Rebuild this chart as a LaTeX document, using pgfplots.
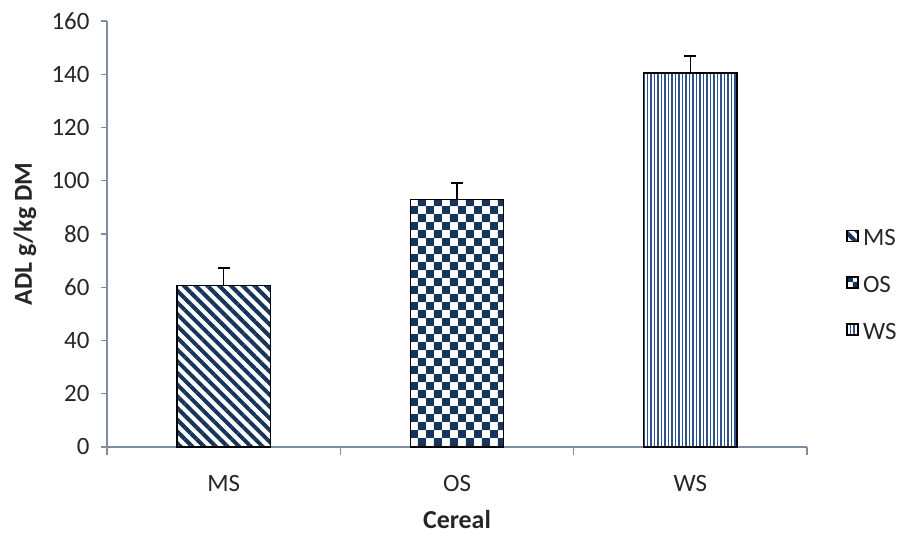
\documentclass[border=0pt]{standalone}
\usepackage{pgfplots}
\pgfplotsset{compat=1.18}
\usepackage{fontspec}
\setmainfont{Carlito}
\usetikzlibrary{patterns,patterns.meta}
\definecolor{navy}{RGB}{22,52,92}
\definecolor{wsblue}{RGB}{45,82,135}
\definecolor{axisc}{RGB}{125,140,162}
\pgfdeclarepattern{name=checker, type=uncolored,
  bottom left={\pgfpointorigin}, top right={\pgfpoint{16.4bp}{16.4bp}},
  tile size={\pgfpoint{16.4bp}{16.4bp}},
  code={\pgfpathrectangle{\pgfpointorigin}{\pgfpoint{8.2bp}{8.2bp}}%
        \pgfpathrectangle{\pgfpoint{8.2bp}{8.2bp}}{\pgfpoint{8.2bp}{8.2bp}}%
        \pgfusepath{fill}}}
\begin{document}
\begin{tikzpicture}
\useasboundingbox (-107bp,-89bp) rectangle (801bp,447bp);
\begin{axis}[
  scale only axis, width=700bp, height=426bp,
  xmin=0.5, xmax=3.5, ymin=0, ymax=160,
  axis lines*=left,
  axis line style={axisc, line width=1.2bp},
  xtick={1,2,3}, xticklabels={MS,OS,WS},
  major x tick style={draw=none},
  minor xtick={0.5,1.5,2.5,3.5},
  ytick={0,20,...,160},
  tick align=outside, major tick length=6bp, minor tick length=8bp,
  tick style={axisc, line width=1.2bp},
  /pgf/number format/assume math mode=true,
  ticklabel style={font=\fontsize{25}{29}\selectfont, text=black!85},
  xticklabel style={yshift=-19bp},
  yticklabel style={xshift=-8bp},
  xlabel={\bfseries Cereal}, ylabel={\bfseries ADL g/kg DM},
  label style={font=\fontsize{26}{30}\selectfont, text=black!85},
  xlabel style={at={(axis description cs:0.5,-0.171)}, anchor=center},
  ylabel style={at={(axis description cs:-0.117,0.5)}, anchor=center},
  legend style={at={(axis description cs:1.056,0.38)}, anchor=west, draw=none, fill=none,
    font=\fontsize{25}{29}\selectfont, text=black!85, row sep=25bp, inner sep=0pt,
    nodes={inner xsep=4bp}},
  legend cell align=left,
  legend image code/.code={\draw[#1, line width=1.6bp] (0bp,-3bp) rectangle (11bp,8bp);},
]
\addplot[ybar, bar width=0.4, bar shift=0pt, draw=black, line width=1.2bp,
  pattern={Lines[angle=-45,distance=8.3bp,line width=4bp]}, pattern color=navy,
  error bars/.cd, y dir=plus, y explicit,
  error bar style={black, line width=1.4bp},
  error mark options={rotate=90, mark size=6bp, black, line width=1.4bp}]
  coordinates {(1,60.8) +- (0,6.4)};
\addlegendentry{MS}
\addplot[ybar, bar width=0.4, bar shift=0pt, draw=black, line width=1.2bp,
  pattern=checker, pattern color=navy,
  error bars/.cd, y dir=plus, y explicit,
  error bar style={black, line width=1.4bp},
  error mark options={rotate=90, mark size=6bp, black, line width=1.4bp}]
  coordinates {(2,93.1) +- (0,6.1)};
\addlegendentry{OS}
\addplot[ybar, bar width=0.4, bar shift=0pt, draw=black, line width=1.2bp,
  pattern={Lines[angle=90,distance=3.5bp,line width=1.7bp]}, pattern color=wsblue,
  error bars/.cd, y dir=plus, y explicit,
  error bar style={black, line width=1.4bp},
  error mark options={rotate=90, mark size=6bp, black, line width=1.4bp}]
  coordinates {(3,140.5) +- (0,6.4)};
\addlegendentry{WS}
\end{axis}
\end{tikzpicture}
\end{document}
